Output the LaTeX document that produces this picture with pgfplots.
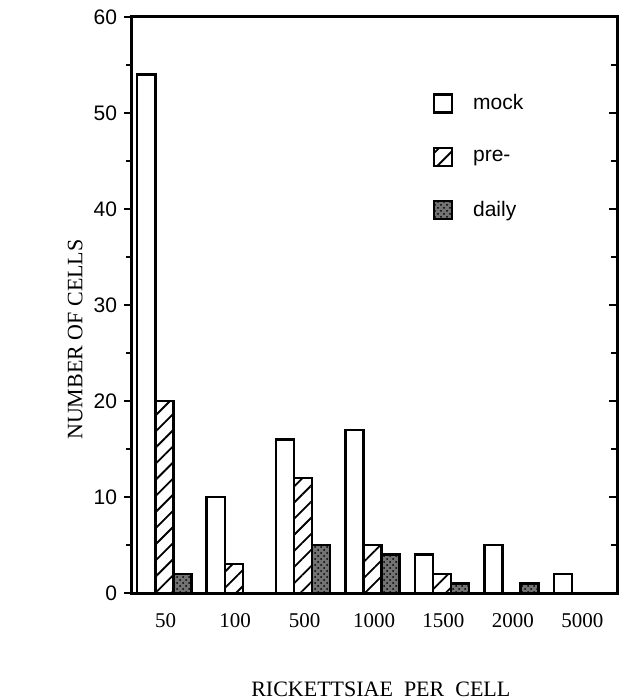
\documentclass[border=0pt]{standalone}
\usepackage{pgfplots}
\pgfplotsset{compat=1.18}
\usepackage{fontspec}
\setmainfont{Liberation Serif}
\newfontfamily\sansf{Liberation Sans}
\usetikzlibrary{patterns,patterns.meta}
\begin{document}
\begin{tikzpicture}
\begin{axis}[
  scale only axis,
  width=243pt, height=288pt,
  xmin=-0.5, xmax=6.5, ymin=0, ymax=60,
  ybar, bar width=0.26,
  axis line style={line width=1.5pt},
  tick align=outside,
  ytick pos=left, xtick pos=both,
  major tick length=3.5pt, minor tick length=2.5pt,
  every tick/.style={line width=1.3pt, black},
  ytick={0,10,...,60}, minor ytick={5,15,...,55},
  xtick={0,...,6},
  xticklabels={50,100,500,1000,1500,2000,5000},
  minor xtick={-0.5,0.5,...,6.5},
  xtick style={draw=none},
  xticklabel style={font=\fontsize{10.5}{12}\selectfont, yshift=-3pt},
  yticklabel style={font=\sansf\fontsize{10.5}{12}\selectfont},
  /pgf/number format/assume math mode=true,
  xlabel={RICKETTSIAE\ \ PER\ \ CELL},
  ylabel={NUMBER OF CELLS},
  xlabel style={font=\fontsize{11}{13}\selectfont, at={(axis description cs:0.514,-0.1675)}, anchor=center},
  ylabel style={font=\fontsize{11}{13}\selectfont, at={(axis description cs:-0.115,0.44)}, anchor=center, rotate=0},
  legend image code/.code={\draw[#1, line width=1.2pt] (0pt,-4.5pt) rectangle (9pt,4.5pt);},
  legend style={draw=none, fill=none, at={(axis description cs:0.62,0.873)}, anchor=north west,
    font=\sansf\fontsize{10.5}{12}\selectfont, row sep=14.5pt, inner sep=0pt,
    /tikz/every odd column/.style={column sep=8pt}},
  legend cell align=left,
]
\addplot[draw=black, line width=1.2pt, fill=white, bar shift=-0.28]
  coordinates {(0,54) (1,10) (2,16) (3,17) (4,4) (5,5) (6,2)};
\addlegendentry{mock}
\addplot[draw=black, line width=1.2pt, fill=white, bar shift=-0.02,
  pattern={Lines[angle=45, distance=5.7pt, line width=0.9pt]}]
  coordinates {(0,20) (1,3) (2,12) (3,5) (4,2) (5,0) (6,0)};
\addlegendentry{pre-}
\addplot[draw=black, line width=1.2pt, fill=black!55, bar shift=0.24,
  postaction={pattern=crosshatch dots, pattern color=black}]
  coordinates {(0,2) (1,0) (2,5) (3,4) (4,1) (5,1) (6,0)};
\addlegendentry{daily}
\coordinate (sw) at (rel axis cs:0,0);
\coordinate (ne) at (rel axis cs:1,1);
\end{axis}
\begin{axis}[
  scale only axis,
  width=243pt, height=288pt,
  xmin=-0.5, xmax=6.5, ymin=0, ymax=60,
  axis x line=none, axis y line*=right,
  axis line style={line width=1.5pt, -},
  tick align=inside,
  major tick length=4pt, minor tick length=3pt,
  every tick/.style={line width=1.3pt, black},
  ytick={0,10,...,60}, minor ytick={5,15,...,55},
  yticklabels={},
]
\end{axis}
\pgfresetboundingbox
\path ([shift={(-65.5pt,-53.5pt)}]sw) rectangle ([shift={(6.5pt,8.5pt)}]ne);
\end{tikzpicture}
\end{document}
